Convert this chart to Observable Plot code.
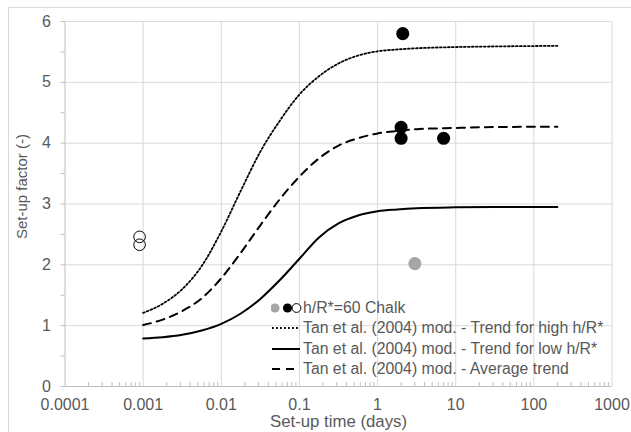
<!DOCTYPE html>
<html><head><meta charset="utf-8">
<script src="https://cdn.jsdelivr.net/npm/d3@7"></script>
<script src="https://cdn.jsdelivr.net/npm/@observablehq/plot@0.6"></script>
<style>
html,body{margin:0;padding:0;background:#fff;}
#chart{position:relative;width:631px;height:432px;overflow:hidden;font-family:"Liberation Sans",Arial,sans-serif;background:#fff;}
#chart svg{display:block;}
#border{position:absolute;left:8px;top:7px;width:700px;height:500px;border:1px solid #d9d9d9;pointer-events:none;}
#legend{position:absolute;left:271px;top:298px;color:#595959;font-size:15.8px;line-height:20.3px;}
.row{display:flex;align-items:center;height:20.3px;white-space:nowrap;}
.row svg{flex:none;}
</style></head><body><div id="chart"><div id="border"></div></div>
<script>
// ---- data ----
const xTickValues = [0.0001, 0.001, 0.01, 0.1, 1, 10, 100, 1000];
const xTickLabels = ["0.0001", "0.001", "0.01", "0.1", "1", "10", "100", "1000"];
const yTickValues = [0, 1, 2, 3, 4, 5, 6];
const yTickLabels = ["0", "1", "2", "3", "4", "5", "6"];
const xTitle = "Set-up time (days)";
const yTitle = "Set-up factor (-)";

// trend curves
const curveTime = [0.001, 0.00178, 0.00316, 0.00562, 0.01, 0.0178, 0.0316, 0.0562, 0.1, 0.178, 0.316, 0.562, 1, 1.78, 3.16, 10, 31.6, 200];
const highTrend = [1.21, 1.36, 1.6, 1.98, 2.55, 3.22, 3.86, 4.37, 4.8, 5.1, 5.31, 5.44, 5.51, 5.54, 5.56, 5.58, 5.59, 5.6];
const lowTrend  = [0.79, 0.81, 0.85, 0.92, 1.03, 1.2, 1.44, 1.75, 2.1, 2.45, 2.68, 2.81, 2.88, 2.91, 2.93, 2.945, 2.95, 2.95];
const avgTrend  = [1.01, 1.1, 1.24, 1.45, 1.78, 2.2, 2.65, 3.08, 3.45, 3.75, 3.96, 4.08, 4.16, 4.2, 4.23, 4.25, 4.265, 4.27];

// measured points, h/R* = 60 chalk
const grayTime = [3];
const grayValue = [2.02];
const blackTime = [2.1, 2, 2, 7];
const blackValue = [5.8, 4.26, 4.08, 4.08];
const openTime = [0.0009, 0.0009];
const openValue = [2.46, 2.33];

const legendLabels = [
  "h/R*=60 Chalk",
  "Tan et al. (2004) mod. - Trend for high h/R*",
  "Tan et al. (2004) mod. - Trend for low h/R*",
  "Tan et al. (2004) mod. - Average trend"
];

// ---- derived tables ----
const xLabelOf = new Map(xTickValues.map((v, i) => [v, xTickLabels[i]]));
const yLabelOf = new Map(yTickValues.map((v, i) => [v, yTickLabels[i]]));
const xMinor = [];
for (let e = -4; e < 3; e++) for (let m = 2; m <= 9; m++) xMinor.push(m * Math.pow(10, e));
const yMinor = yTickValues.slice(0, -1).map(v => v + 0.5);
const pts = (ts, vs) => ts.map((t, i) => ({t, v: vs[i]}));

const lineStyles = [
  {values: highTrend, strokeWidth: 1.8, strokeDasharray: "1.8,2.2"},
  {values: lowTrend, strokeWidth: 2, strokeDasharray: null},
  {values: avgTrend, strokeWidth: 2, strokeDasharray: "8,6"}
];

const GRID = "#d9d9d9", AXIS = "#bfbfbf", TEXT = "#595959", GRAY = "#a6a6a6";

const plot = Plot.plot({
  width: 631, height: 432,
  marginLeft: 64.5, marginRight: 19.5, marginTop: 21, marginBottom: 46,
  style: {fontFamily: "Liberation Sans, Arial, sans-serif", fontSize: "16px", color: TEXT, background: "transparent", overflow: "visible"},
  x: {type: "log", domain: [xTickValues[0], xTickValues[xTickValues.length - 1]]},
  y: {domain: [yTickValues[0], yTickValues[yTickValues.length - 1]]},
  marks: [
    Plot.gridX(xTickValues.slice(1), {stroke: GRID, strokeOpacity: 1}),
    Plot.gridY(yTickValues.slice(1), {stroke: GRID, strokeOpacity: 1}),
    Plot.axisX(xMinor, {tickSize: -4, tickFormat: () => "", stroke: AXIS, strokeOpacity: 1, label: null}),
    Plot.axisX(xTickValues, {tickSize: 0, tickPadding: 12, tickFormat: d => xLabelOf.get(d) ?? String(d), fill: TEXT, fontSize: 16, label: null}),
    Plot.axisY(yMinor, {tickSize: 4, tickFormat: () => "", stroke: AXIS, strokeOpacity: 1, label: null}),
    Plot.axisY(yTickValues, {tickSize: 4, tickPadding: 10, tickFormat: d => yLabelOf.get(d) ?? String(d), stroke: AXIS, strokeOpacity: 1, fill: TEXT, fontSize: 16, label: null}),
    Plot.ruleY([yTickValues[0]], {stroke: AXIS}),
    Plot.ruleX([xTickValues[0]], {stroke: AXIS}),
    ...lineStyles.map(s => Plot.line(pts(curveTime, s.values), {
      x: "t", y: "v", stroke: "#000", strokeWidth: s.strokeWidth,
      strokeDasharray: s.strokeDasharray, curve: "monotone-x"
    })),
    Plot.dot(pts(grayTime, grayValue), {x: "t", y: "v", r: 5.8, fill: GRAY, stroke: GRAY}),
    Plot.dot(pts(blackTime, blackValue), {x: "t", y: "v", r: 5.8, fill: "#000", stroke: "#000"}),
    Plot.dot(pts(openTime, openValue), {x: "t", y: "v", r: 5.8, fill: "none", stroke: "#000", strokeWidth: 1}),
    Plot.text([xTitle], {frameAnchor: "bottom", dy: 40, lineAnchor: "bottom", fill: TEXT, fontSize: 16.8}),
    Plot.text([yTitle], {frameAnchor: "left", textAnchor: "middle", rotate: -90, dx: -43, dy: -17.5, lineAnchor: "middle", fill: TEXT, fontSize: 15})
  ]
});

const chart = document.getElementById("chart");
chart.insertBefore(plot, chart.firstChild);

// legend overlay
const legend = document.createElement("div");
legend.id = "legend";
const symbols = [
  `<svg width="32" height="20"><circle cx="4" cy="10" r="4.6" fill="${GRAY}"/><circle cx="16.5" cy="10" r="4.6" fill="#000"/><circle cx="25.5" cy="10" r="4.4" fill="#fff" stroke="#000" stroke-width="1"/></svg>`,
  ...lineStyles.map(s => `<svg width="32" height="20"><line x1="1" x2="29" y1="10" y2="10" stroke="#000" stroke-width="${s.strokeWidth}" ${s.strokeDasharray ? `stroke-dasharray="${s.strokeDasharray}"` : ""}/></svg>`)
];
legendLabels.forEach((lab, i) => {
  const row = document.createElement("div");
  row.className = "row";
  row.innerHTML = symbols[i] + `<span>${lab}</span>`;
  legend.appendChild(row);
});
chart.appendChild(legend);
</script></body></html>
